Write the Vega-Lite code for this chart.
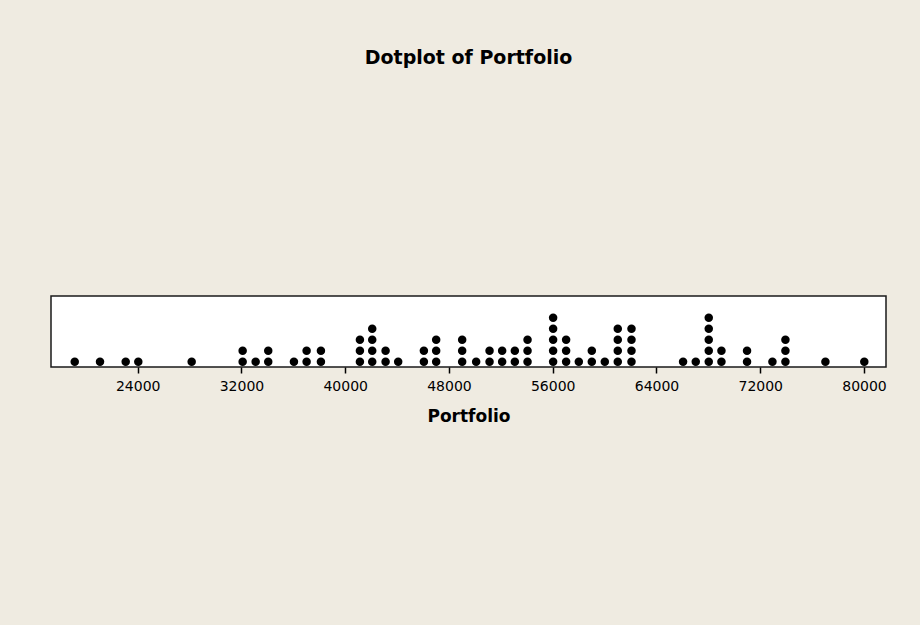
{
  "$schema": "https://vega.github.io/schema/vega-lite/v6.json",
  "autosize": {"type": "none"},
  "width": 835,
  "height": 71,
  "padding": {"left": 51, "top": 296, "right": 34, "bottom": 258},
  "background": "#EFEBE1",
  "title": {
    "text": "Dotplot of Portfolio",
    "anchor": "middle",
    "font": "DejaVu Sans",
    "fontSize": 19,
    "fontWeight": "bold",
    "color": "#000000",
    "baseline": "alphabetic",
    "offset": 213
  },
  "config": {
    "view": {"fill": "#FFFFFF", "stroke": "#1a1a1a", "strokeWidth": 1.5}
  },
  "data": {
    "values": [
      {"Portfolio": 19145},
      {"Portfolio": 21094},
      {"Portfolio": 23075},
      {"Portfolio": 24046},
      {"Portfolio": 28162},
      {"Portfolio": 32092}, {"Portfolio": 32092},
      {"Portfolio": 33094},
      {"Portfolio": 34065}, {"Portfolio": 34065},
      {"Portfolio": 36046},
      {"Portfolio": 37024}, {"Portfolio": 37024},
      {"Portfolio": 38127}, {"Portfolio": 38127},
      {"Portfolio": 41133}, {"Portfolio": 41133}, {"Portfolio": 41133},
      {"Portfolio": 42082}, {"Portfolio": 42082}, {"Portfolio": 42082}, {"Portfolio": 42082},
      {"Portfolio": 43113}, {"Portfolio": 43113},
      {"Portfolio": 44085},
      {"Portfolio": 46065}, {"Portfolio": 46065},
      {"Portfolio": 47013}, {"Portfolio": 47013}, {"Portfolio": 47013},
      {"Portfolio": 49017}, {"Portfolio": 49017}, {"Portfolio": 49017},
      {"Portfolio": 50096},
      {"Portfolio": 51129}, {"Portfolio": 51129},
      {"Portfolio": 52100}, {"Portfolio": 52100},
      {"Portfolio": 53079}, {"Portfolio": 53079},
      {"Portfolio": 54058}, {"Portfolio": 54058}, {"Portfolio": 54058},
      {"Portfolio": 56031}, {"Portfolio": 56031}, {"Portfolio": 56031}, {"Portfolio": 56031}, {"Portfolio": 56031},
      {"Portfolio": 57033}, {"Portfolio": 57033}, {"Portfolio": 57033},
      {"Portfolio": 58011},
      {"Portfolio": 59013}, {"Portfolio": 59013},
      {"Portfolio": 60015},
      {"Portfolio": 61015}, {"Portfolio": 61015}, {"Portfolio": 61015}, {"Portfolio": 61015},
      {"Portfolio": 62073}, {"Portfolio": 62073}, {"Portfolio": 62073}, {"Portfolio": 62073},
      {"Portfolio": 66050},
      {"Portfolio": 67028},
      {"Portfolio": 68030}, {"Portfolio": 68030}, {"Portfolio": 68030}, {"Portfolio": 68030}, {"Portfolio": 68030},
      {"Portfolio": 69009}, {"Portfolio": 69009},
      {"Portfolio": 70982}, {"Portfolio": 70982},
      {"Portfolio": 72940},
      {"Portfolio": 73942}, {"Portfolio": 73942}, {"Portfolio": 73942},
      {"Portfolio": 77025},
      {"Portfolio": 80023}
    ]
  },
  "transform": [
    {"window": [{"op": "row_number", "as": "level"}], "groupby": ["Portfolio"]}
  ],
  "mark": {"type": "circle", "size": 72, "opacity": 1, "color": "#000000"},
  "encoding": {
    "x": {
      "field": "Portfolio",
      "type": "quantitative",
      "scale": {"domain": [17315, 81696], "nice": false, "zero": false},
      "axis": {
        "values": [24000, 32000, 40000, 48000, 56000, 64000, 72000, 80000],
        "format": "d",
        "domain": false,
        "grid": false,
        "ticks": true,
        "tickSize": 6,
        "tickColor": "#000000",
        "tickWidth": 1.5,
        "labelFont": "DejaVu Sans",
        "labelFontSize": 14,
        "labelColor": "#000000",
        "labelPadding": 6,
        "title": "Portfolio",
        "titleFont": "DejaVu Sans",
        "titleFontSize": 17,
        "titleFontWeight": "bold",
        "titleColor": "#000000",
        "titlePadding": 15
      }
    },
    "y": {
      "field": "level",
      "type": "quantitative",
      "scale": {"domain": [0.53, 6.98], "nice": false, "zero": false},
      "axis": null
    }
  }
}
